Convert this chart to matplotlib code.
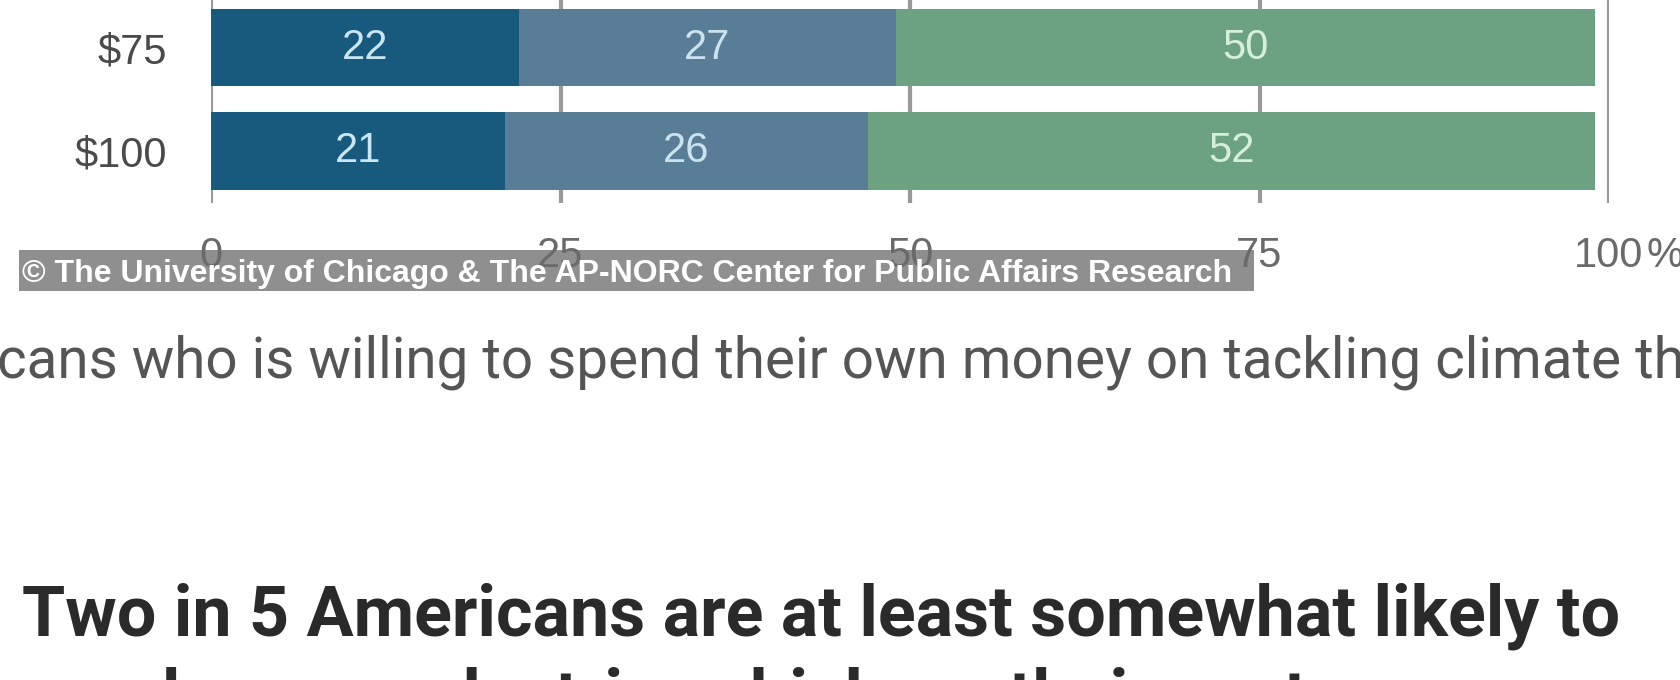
import matplotlib
matplotlib.use('Agg')
import matplotlib.pyplot as plt
from matplotlib import font_manager
from matplotlib.patches import Rectangle

# data
categories = ['$75', '$100']
dark_vals = [22, 21]
mid_vals = [27, 26]
green_vals = [50, 52]
x_ticks = [0, 25, 50, 75, 100]
x_tick_labels = ['0', '25', '50', '75', '100']

caption = '\u00a9 The University of Chicago & The AP-NORC Center for Public Affairs Research'
sentence = 'cans who is willing to spend their own money on tackling climate th'
heading_1 = 'Two in 5 Americans are at least somewhat likely to'
heading_2 = 'purchase an electric vehicle as their next car'

W, H = 1680, 680


def pick(*names):
    have = {f.name for f in font_manager.fontManager.ttflist}
    for n in names:
        if n in have:
            return n
    return 'DejaVu Sans'


narrow = pick('Liberation Sans Narrow', 'DejaVu Sans Condensed', 'Liberation Sans')
roboto = pick('Roboto', 'Noto Sans')


def fx(px):
    return px / W


def fy(py):
    return 1 - py / H


fig = plt.figure(figsize=(16.8, 6.8), dpi=100)
fig.patch.set_facecolor('white')

# axes spans figure top down to just under the bars
ax = fig.add_axes([fx(211), fy(203), fx(1609) - fx(211), 203 / H])
ax.set_facecolor('none')

ypos = list(range(len(categories)))
bh = 0.75
left2 = [a for a in dark_vals]
left3 = [a + b for a, b in zip(dark_vals, mid_vals)]
b1 = ax.barh(ypos, dark_vals, height=bh, color='#175a7e', zorder=2)
b2 = ax.barh(ypos, mid_vals, left=left2, height=bh, color='#5a7d97', zorder=2)
b3 = ax.barh(ypos, green_vals, left=left3, height=bh, color='#6ca282', zorder=2)

for bars, col in [(b1, '#cbe6f2'), (b2, '#cbe3f0'), (b3, '#d6eedc')]:
    ax.bar_label(bars, label_type='center', color=col, fontsize=30,
                 family=narrow)

ax.set_xlim(0, 100)
ax.set_ylim(1.505, -0.46)
ax.set_yticks(ypos)
ax.set_yticklabels(categories, family=narrow, fontsize=30, color='#4a4a4a')
ax.set_xticks(x_ticks)
ax.set_xticklabels(x_tick_labels, family=narrow, fontsize=30, color='#6a6a6a')
ax.tick_params(axis='both', length=0)
ax.tick_params(axis='x', pad=24)
ax.tick_params(axis='y', pad=32)
for t in x_ticks:
    ax.axvline(t, color='#9a9a9a', lw=3, zorder=1)
for s in ax.spines.values():
    s.set_visible(False)
ax.annotate('%', xy=(100, 0), xycoords=('data', 'axes fraction'),
            xytext=(27, -24), textcoords='offset points', ha='left', va='top',
            family=narrow, fontsize=30, color='#6a6a6a', annotation_clip=False)

# caption strip
fig.add_artist(Rectangle((fx(19), fy(291)), fx(1254) - fx(19), 41 / H,
                         transform=fig.transFigure, facecolor='#8f8f8f',
                         edgecolor='none', zorder=-1))
fig.text(fx(22), fy(282), caption, color='white', fontsize=23,
         fontweight='bold', family='Liberation Sans', va='baseline', zorder=5)

# article text
fig.text(fx(-3), fy(377), sentence, color='#555555', fontsize=40.8,
         family=roboto, va='baseline')
fig.text(fx(22), fy(636), heading_1, color='#2a2a2a', fontsize=50.4,
         fontweight='bold', family=roboto, va='baseline')
fig.text(fx(22), fy(720), heading_2, color='#2a2a2a', fontsize=50.4,
         fontweight='bold', family=roboto, va='baseline')

fig.savefig('out.png', dpi=100)
